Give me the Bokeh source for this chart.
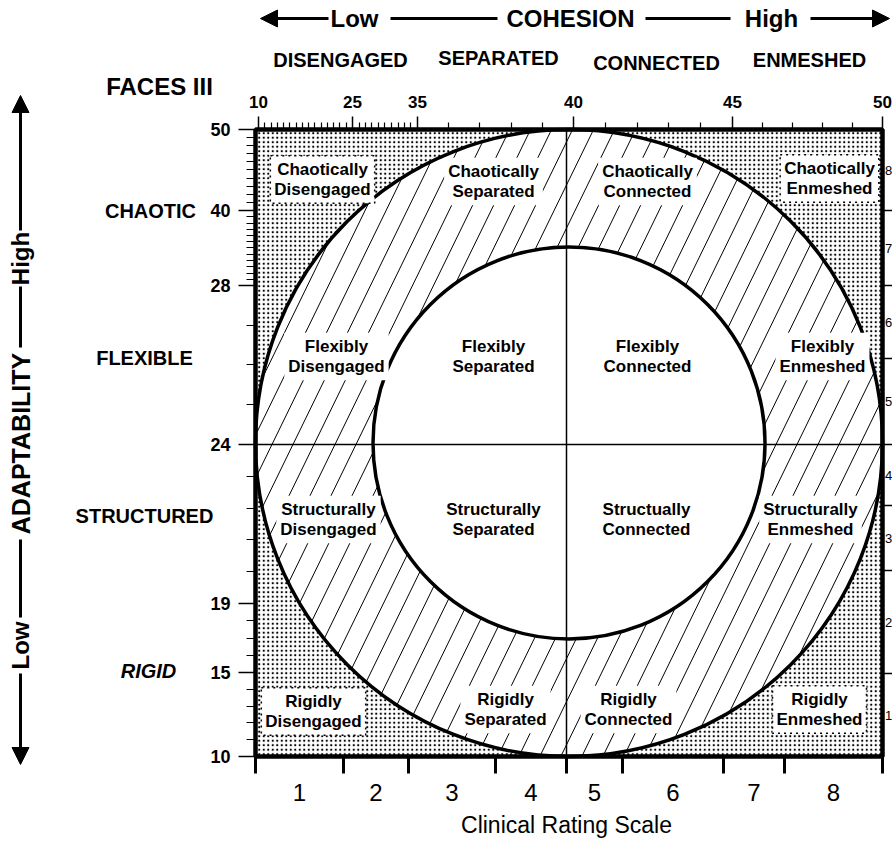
import numpy as np
from bokeh.plotting import figure
from bokeh.models import (Range1d, LinearAxis, FixedTicker, Arrow, NormalHead,
                          ColumnDataSource)
from bokeh.core.properties import value
from bokeh.embed import file_html
from bokeh.resources import INLINE

# ---------------- data ----------------
cohesion_levels = ["DISENGAGED", "SEPARATED", "CONNECTED", "ENMESHED"]
adaptability_levels = ["CHAOTIC", "FLEXIBLE", "STRUCTURED", "RIGID"]
cohesion_scores = [10, 25, 35, 40, 45, 50]            # FACES III cohesion ticks
adaptability_scores = [10, 15, 19, 24, 28, 40, 50]    # FACES III adaptability ticks
clinical_ratings = [1, 2, 3, 4, 5, 6, 7, 8]
extreme_types = ["Chaotically\nDisengaged", "Chaotically\nEnmeshed",
                 "Rigidly\nDisengaged", "Rigidly\nEnmeshed"]
mid_range_types = ["Chaotically\nSeparated", "Chaotically\nConnected",
                   "Flexibly\nDisengaged", "Flexibly\nEnmeshed",
                   "Structurally\nDisengaged", "Structurally\nEnmeshed",
                   "Rigidly\nSeparated", "Rigidly\nConnected"]
balanced_types = ["Flexibly\nSeparated", "Flexibly\nConnected",
                  "Structurally\nSeparated", "Structually\nConnected"]
scale_name = "FACES III"
cohesion_title = "COHESION"
adaptability_title = "ADAPTABILITY"
low_word, high_word = "Low", "High"
clinical_title = "Clinical Rating Scale"

# ---------------- layout (page pixels) ----------------
FIG_W, FIG_H = 892, 843
SQ_L, SQ_R, SQ_T, SQ_B = 255.0, 882.0, 129.0, 756.0
S = SQ_R - SQ_L


def ux(px):
    return (np.asarray(px, dtype=float) - SQ_L) / S


def vy(py):
    return (SQ_B - np.asarray(py, dtype=float)) / S


coh_px = [258, 352, 417, 573, 732, 882]          # page x of cohesion ticks
adapt_py = [756, 672, 603, 444, 285, 210, 129]   # page y of adaptability ticks
clin_bounds_px = [255, 343, 408, 495, 566, 622, 723, 784, 882]
clin_bounds_right_py = [129, 210, 285, 358, 444, 505, 570, 673, 756]

extreme_pos = [(322, 179), (829, 178), (313, 711), (819, 709)]
mid_pos = [(493, 181), (647, 181), (336, 356), (822, 356),
           (328, 519), (810, 519), (505, 709), (628, 709)]
bal_pos = [(493, 356), (647, 356), (493, 519), (646, 519)]

cohesion_level_pos = [(340, 59), (498, 57), (656, 62), (809, 59)]
adapt_level_pos = [(150, 210), (144, 357), (144, 515), (148, 670)]

FONT = "Liberation Sans"

p = figure(width=FIG_W, height=FIG_H,
           x_range=Range1d(float(ux(0)), float(ux(FIG_W))),
           y_range=Range1d(float(vy(FIG_H)), float(vy(0))),
           output_backend="svg", toolbar_location=None,
           x_axis_location=None, y_axis_location=None,
           min_border=0)
p.outline_line_color = None
p.grid.visible = False
p.background_fill_color = "white"
p.border_fill_color = "white"

# ---- stippled square (extreme corners) ----
p.quad(left=[0], right=[1], bottom=[0], top=[1], fill_color="white",
       line_color=None, hatch_pattern="dot", hatch_color="black",
       hatch_scale=4.5, hatch_weight=1.1)

# ---- outer circle fill ----
p.ellipse(x=[0.5], y=[0.5], width=[1.0], height=[1.0],
          fill_color="white", line_color=None)

# ---- diagonal hatching in the mid-range ring ----
theta = np.deg2rad(64)
d = np.array([np.cos(theta), np.sin(theta)])
n = np.array([np.sin(theta), -np.cos(theta)])
R = 0.5
step = (21.0 / S) * np.sin(theta)
offs = np.arange(-R + step / 2, R, step)
hx0, hy0, hx1, hy1 = [], [], [], []
for s in offs:
    half = np.sqrt(max(R * R - s * s, 0))
    fx, fy = 0.5 + s * n[0], 0.5 + s * n[1]
    hx0.append(fx - half * d[0]); hy0.append(fy - half * d[1])
    hx1.append(fx + half * d[0]); hy1.append(fy + half * d[1])
p.segment(x0=hx0, y0=hy0, x1=hx1, y1=hy1, line_color="black", line_width=1)

# ---- inner (balanced) circle ----
inner_d = 392.0 / S
p.ellipse(x=[0.5], y=[0.5], width=[inner_d], height=[inner_d],
          fill_color="white", line_color="black", line_width=3.5)

# ---- cross lines ----
p.segment(x0=[float(ux(566))], y0=[0], x1=[float(ux(566))], y1=[1],
          line_color="black", line_width=1.5)
p.segment(x0=[0], y0=[float(vy(444))], x1=[1], y1=[float(vy(444))],
          line_color="black", line_width=1.5)

# ---- outer circle outline and square border ----
p.ellipse(x=[0.5], y=[0.5], width=[1.0], height=[1.0],
          fill_color=None, line_color="black", line_width=3.5)
p.quad(left=[0], right=[1], bottom=[0], top=[1], fill_color=None,
       line_color="black", line_width=4.5)

# ---- right-hand clinical scale (at the page edge) ----
rb = np.array(clin_bounds_right_py, dtype=float)
rmid = (rb[:-1] + rb[1:]) / 2
p.segment(x0=[float(ux(SQ_R))] * 7, y0=list(vy(rb[1:-1])),
          x1=[float(ux(892))] * 7, y1=list(vy(rb[1:-1])),
          line_color="black", line_width=1.5)
p.text(x=[float(ux(884.5))] * 8, y=list(vy(rmid)),
       text=[str(c) for c in clinical_ratings[::-1]],
       text_font=value(FONT), text_font_size="13px", text_align="left",
       text_baseline="middle", text_color="black")


# ---- region labels ----
def region_text(labels, pos, boxed, border):
    src = ColumnDataSource(dict(x=list(ux([a for a, b in pos])),
                                y=list(vy([b for a, b in pos])), t=labels))
    kw = dict(x="x", y="y", text="t", source=src, text_font=value(FONT),
              text_font_size="17px", text_font_style="bold", text_align="center",
              text_baseline="middle", text_line_height=1.08, text_color="black")
    if boxed:
        kw.update(background_fill_color="white", padding=4)
    if border:
        kw.update(border_line_color="black", border_line_dash="dotted",
                  border_line_width=1.5)
    p.text(**kw)


region_text(extreme_types, extreme_pos, True, True)
region_text(mid_range_types, mid_pos, True, False)
region_text(balanced_types, bal_pos, False, False)


# ---- axes (drawn at the square's edges) ----
def rnd(a):
    return [round(float(t), 6) for t in np.atleast_1d(a)]


def style_axis(ax, size, style="bold"):
    ax.axis_line_color = None
    ax.major_label_text_font = FONT
    ax.major_label_text_font_style = style
    ax.major_label_text_font_size = size
    ax.major_label_text_color = "black"
    ax.major_tick_line_color = "black"
    ax.minor_tick_line_color = "black"


# top: FACES III cohesion
top_major = rnd(ux(coh_px))
top_minor = rnd(ux(np.interp([s for s in range(10, 51) if s not in cohesion_scores],
                             cohesion_scores, coh_px)))
top = LinearAxis(ticker=FixedTicker(ticks=top_major, minor_ticks=top_minor),
                 major_label_overrides={t: str(s) for t, s in zip(top_major, cohesion_scores)},
                 fixed_location=1.0, bounds=(0, 1.01))
style_axis(top, "17px")
top.major_tick_out, top.major_tick_in = 13, 0
top.minor_tick_out, top.minor_tick_in = 7, 0
top.major_tick_line_width = 1.5
top.minor_tick_line_width = 1.2
top.major_label_standoff = 9
p.add_layout(top, "above")

# left: FACES III adaptability
left_major = rnd(vy(adapt_py))
left_minor = rnd(vy(np.interp([s for s in range(10, 51) if s not in adaptability_scores],
                              adaptability_scores, adapt_py)))
left = LinearAxis(ticker=FixedTicker(ticks=left_major, minor_ticks=left_minor),
                  major_label_overrides={t: str(s) for t, s in zip(left_major, adaptability_scores)},
                  fixed_location=0.0, bounds=(0, 1))
style_axis(left, "18px")
left.major_tick_out, left.major_tick_in = 17, 0
left.minor_tick_out, left.minor_tick_in = 9, 0
left.major_tick_line_width = 1.5
left.minor_tick_line_width = 1.2
left.major_label_standoff = 8
p.add_layout(left, "left")

# bottom: clinical rating scale
cb = np.array(clin_bounds_px, dtype=float)
bot_major = rnd(ux((cb[:-1] + cb[1:]) / 2))
bot_minor = rnd(ux(cb))
bottom = LinearAxis(ticker=FixedTicker(ticks=bot_major, minor_ticks=bot_minor),
                    major_label_overrides={t: str(c) for t, c in zip(bot_major, clinical_ratings)},
                    fixed_location=0.0, bounds=(0, 1))
style_axis(bottom, "24px", style="normal")
bottom.major_tick_out, bottom.major_tick_in = 0, 0
bottom.major_tick_line_color = None
bottom.minor_tick_out, bottom.minor_tick_in = 17, 0
bottom.minor_tick_line_width = 3
bottom.major_label_standoff = 10
p.add_layout(bottom, "below")


# ---- outer texts ----
def lab(px, py, text, size, style="bold", angle=0.0, align="center"):
    p.text(x=[float(ux(px))], y=[float(vy(py))], text=[text], text_font=value(FONT),
           text_font_size=size, text_font_style=style, text_align=align,
           text_baseline="middle", angle=angle, text_color="black")


for name, (a, b) in zip(cohesion_levels, cohesion_level_pos):
    lab(a, b, name, "20px")
for name, (a, b) in zip(adaptability_levels, adapt_level_pos):
    lab(a, b, name, "20px", style="bold italic" if name == "RIGID" else "bold")
lab(159, 86, scale_name, "24px")
lab(566, 824, clinical_title, "23px", style="normal")

ROW = 18
lab(354, ROW, low_word, "24px")
lab(570, ROW, cohesion_title, "24px")
lab(771, ROW, high_word, "24px")


def arrow(x0, y0, x1, y1, head=True):
    p.add_layout(Arrow(x_start=float(ux(x0)), y_start=float(vy(y0)),
                       x_end=float(ux(x1)), y_end=float(vy(y1)), line_width=3,
                       line_color="black",
                       end=NormalHead(size=17, fill_color="black", line_color="black")
                       if head else None))


arrow(328, ROW, 260, ROW)
arrow(390, ROW, 497, ROW, head=False)
arrow(645, ROW, 730, ROW, head=False)
arrow(810, ROW, 889, ROW)

COL = 20
lab(COL, 258, high_word, "24px", angle=np.pi / 2)
lab(COL, 443, adaptability_title, "25px", angle=np.pi / 2)
lab(COL, 645, low_word, "24px", angle=np.pi / 2)
arrow(COL, 230, COL, 95)
arrow(COL, 286, COL, 347, head=False)
arrow(COL, 539, COL, 617, head=False)
arrow(COL, 673, COL, 764)

open("out.html", "w").write(file_html(p, INLINE))
